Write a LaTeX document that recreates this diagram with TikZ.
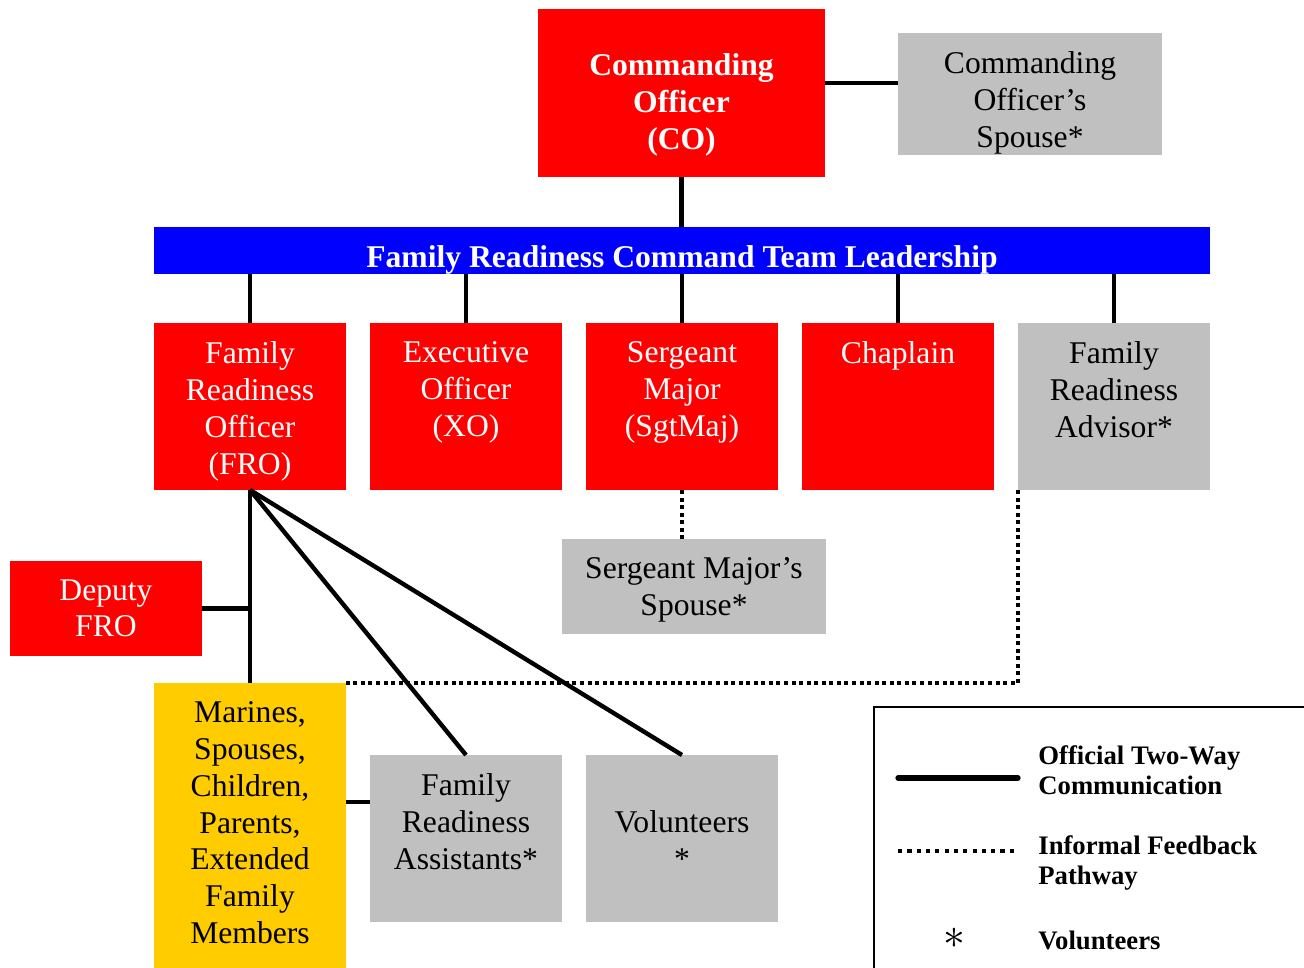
\documentclass[tikz,border=0pt]{standalone}
\usepackage{fontspec}
\setmainfont{Liberation Serif}
\definecolor{cored}{RGB}{255,0,0}
\definecolor{cogray}{RGB}{192,192,192}
\definecolor{coblue}{RGB}{0,0,255}
\definecolor{coyellow}{RGB}{255,204,0}
\tikzset{
  box/.style={inner sep=0pt, outer sep=0pt, minimum width=3.84cm, minimum height=3.34cm},
  boxtext/.style={anchor=north, align=center, inner sep=0pt, yshift=-0.36cm, font=\fontsize{18}{21}\selectfont},
  boldtext/.style={boxtext, text=white, font=\fontsize{18}{21}\selectfont\bfseries},
  redbox/.style={box, fill=cored, label={[boxtext,text=white]north:#1}},
  graybox/.style={box, fill=cogray, label={[boxtext]north:#1}},
  legendtext/.style={anchor=west, align=left, inner sep=0pt, font=\fontsize{15.2}{17}\selectfont\bfseries},
  official/.style={line width=2.5pt},
  informal/.style={line width=2.5pt, dash pattern=on 2.3pt off 2pt},
}
\begin{document}
\begin{tikzpicture}[x=0.02cm,y=-0.02cm]
  \clip (0,0) rectangle (1304,967);
  % top of the chart
  \node[box, fill=cored, minimum width=5.74cm, minimum height=3.36cm,
        label={[boldtext,yshift=-0.52cm]north:Commanding\\Officer\\(CO)}] (co) at (681.5,93) {};
  \node[graybox={Commanding\\Officer’s\\Spouse*}, minimum width=5.28cm, minimum height=2.44cm] (cospouse) at (1030,94) {};
  \node[box, fill=coblue, minimum width=21.12cm, minimum height=0.94cm,
        label={[boldtext]north:Family Readiness Command Team Leadership}] (team) at (682,250.5) {};
  % command team
  \node[redbox={Family\\Readiness\\Officer\\(FRO)}] (fro) at (250,406.5) {};
  \node[redbox={Executive\\Officer\\(XO)}] (xo) at (466,406.5) {};
  \node[redbox={Sergeant\\Major\\(SgtMaj)}] (sgtmaj) at (682,406.5) {};
  \node[redbox={Chaplain}] (chaplain) at (898,406.5) {};
  \node[graybox={Family\\Readiness\\Advisor*}] (advisor) at (1114,406.5) {};
  \node[graybox={Sergeant Major’s\\Spouse*}, minimum width=5.28cm, minimum height=1.9cm] (smspouse) at (694,586.5) {};
  \node[redbox={Deputy\\FRO}, minimum height=1.9cm] (deputy) at (106,608.5) {};
  % families and helpers
  \node[box, fill=coyellow, minimum height=6cm,
        label={[boxtext]north:Marines,\\Spouses,\\Children,\\Parents,\\Extended\\Family\\Members}] (families) at (250,833) {};
  \node[graybox={Family\\Readiness\\Assistants*}] (assistants) at (466,838.5) {};
  \node[box, fill=cogray, label={[boxtext,yshift=-0.74cm]north:Volunteers\\*}] (volunteers) at (682,838.5) {};

  \draw[official] ([yshift=0.2cm]co.east) -- ([yshift=0.2cm]co.east -| cospouse.west);
  \draw[official] (co.south) -- (co.south |- team.north);
  \foreach \n in {fro,xo,sgtmaj,chaplain,advisor}
    \draw[official] (\n.north) -- (\n.north |- team.south);
  \draw[official] (fro.south) -- (families.north);
  \draw[official] (fro.south) -- (assistants.north);
  \draw[official] (fro.south) -- (volunteers.north);
  \draw[official] (deputy.east) -- (deputy.east -| fro.south);
  \draw[official] ([yshift=-2.38cm]families.north east) -- ([yshift=-2.38cm]families.north east -| assistants.west);
  \draw[informal] (sgtmaj.south) -- (sgtmaj.south |- smspouse.north);
  \draw[informal] (advisor.south west) -- (advisor.south west |- families.north) -- (families.north east);

  % legend
  \draw[line width=1pt] (874,990) -- (874,707) -- (1320,707);
  \coordinate (solida) at (898,778);
  \coordinate (solidb) at (1018,778);
  \coordinate (dotsa) at (898,851);
  \coordinate (dotsb) at (1014,851);
  \draw[line width=3pt, line cap=round] (solida) -- (solidb);
  \draw[line width=2.6pt, dash pattern=on 2.4pt off 2.9pt] (dotsa) -- (dotsb);
  \node[font=\fontsize{28}{28}\selectfont, inner sep=0pt] (star) at (954,938) {$\ast$};
  \node[legendtext] (officialtext) at (1038,770) {Official Two-Way\\Communication};
  \node[legendtext] (informaltext) at (1038,863) {Informal Feedback\\Pathway};
  \node[legendtext] (volunteertext) at (1038,940) {Volunteers};
\end{tikzpicture}
\end{document}
